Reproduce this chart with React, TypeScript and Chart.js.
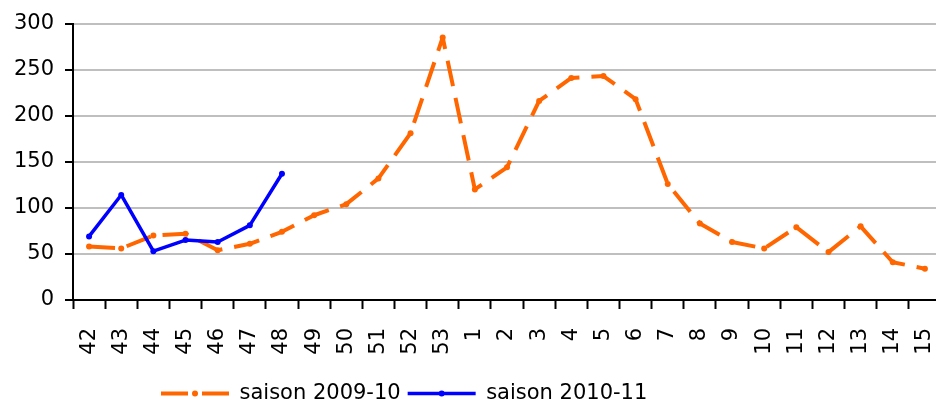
import React, { useEffect, useRef } from "react";
import { Chart, registerables } from "chart.js";

Chart.register(...registerables);

const weeks = [
  "42", "43", "44", "45", "46", "47", "48", "49", "50", "51", "52", "53",
  "1", "2", "3", "4", "5", "6", "7", "8", "9", "10", "11", "12", "13", "14", "15",
];
const season0910 = [
  58, 56, 70, 72, 54, 61, 74, 92, 104, 132, 181, 285,
  120, 144, 216, 241, 243, 218, 126, 83, 63, 56, 79, 52, 80, 41, 34,
];
const season1011 = [69, 114, 53, 65, 63, 81, 137];
const seriesNames = ["saison 2009-10", "saison 2010-11"];
const yTicks = [0, 50, 100, 150, 200, 250, 300];

const ORANGE = "#FF6600";
const BLUE = "#0000FF";
const FONT = { family: "'DejaVu Sans', sans-serif", size: 21 };

export default function App() {
  const ref = useRef<HTMLCanvasElement>(null);

  useEffect(() => {
    const canvas = ref.current;
    if (!canvas) return;

    const legendPlace = {
      id: "legendPlace",
      afterLayout(chart: any) {
        const lg = chart.legend;
        if (lg) {
          const h = lg.height;
          lg.left = 154;
          lg.top = 376;
          lg.bottom = 376 + h;
        }
      },
    };

    const legendDots = {
      id: "legendDots",
      afterDraw(chart: any) {
        const lg = chart.legend;
        if (!lg || !lg.legendHitBoxes) return;
        const ctx = chart.ctx;
        lg.legendHitBoxes.forEach((hb: any, i: number) => {
          const item = lg.legendItems[i];
          const color = item.datasetIndex === 0 ? ORANGE : BLUE;
          ctx.save();
          ctx.fillStyle = color;
          ctx.beginPath();
          ctx.arc(hb.left + 34, hb.top + hb.height / 2, 3, 0, Math.PI * 2);
          ctx.fill();
          ctx.restore();
        });
      },
    };

    const chart = new Chart(canvas, {
      type: "line",
      data: {
        labels: weeks,
        datasets: [
          {
            label: seriesNames[0],
            data: season0910,
            borderColor: ORANGE,
            backgroundColor: ORANGE,
            borderWidth: 4,
            borderDash: [26, 12],
            borderJoinStyle: "round",
            pointRadius: 3,
            pointHoverRadius: 3,
            pointBorderWidth: 0,
            pointBackgroundColor: ORANGE,
            tension: 0,
            order: 2,
          },
          {
            label: seriesNames[1],
            data: season1011,
            borderColor: BLUE,
            backgroundColor: BLUE,
            borderWidth: 3.5,
            borderJoinStyle: "round",
            pointRadius: 3,
            pointHoverRadius: 3,
            pointBorderWidth: 0,
            pointBackgroundColor: BLUE,
            tension: 0,
            order: 1,
          },
        ],
      },
      options: {
        responsive: false,
        animation: false,
        events: [],
        layout: { padding: { top: 23, left: 0, right: 0, bottom: 0 } },
        scales: {
          x: {
            type: "category",
            offset: true,
            grid: {
              offset: true,
              drawOnChartArea: false,
              drawTicks: true,
              tickLength: 9,
              tickColor: "#000",
              tickWidth: 2,
              color: "#000",
            },
            border: { display: true, color: "#000", width: 2 },
            ticks: {
              autoSkip: false,
              minRotation: 90,
              maxRotation: 90,
              padding: 19,
              color: "#000",
              font: FONT,
            },
            afterFit(scale: any) {
              scale.height = 63;
              scale.paddingLeft = 0;
              scale.paddingRight = 0;
            },
          },
          y: {
            min: 0,
            max: 300,
            afterBuildTicks(scale: any) {
              scale.ticks = yTicks.map((v) => ({ value: v }));
            },
            grid: {
              color: (c: any) => (c.tick && c.tick.value === 0 ? "rgba(0,0,0,0)" : "#BFBFBF"),
              lineWidth: 2,
              tickLength: 8,
              tickColor: "#000",
              tickWidth: 2,
            },
            border: { display: true, color: "#000", width: 2 },
            ticks: {
              padding: 11,
              color: "#000",
              font: FONT,
            },
            afterFit(scale: any) {
              scale.width = 73;
            },
          },
        },
        plugins: {
          tooltip: { enabled: false },
          legend: {
            display: true,
            position: "bottom",
            align: "start",
            labels: {
              usePointStyle: true,
              pointStyleWidth: 68,
              padding: 7,
              color: "#000",
              font: FONT,
              generateLabels(ch: any) {
                const colors = [ORANGE, BLUE];
                const widths = [4, 3.5];
                const dashes = [[27, 14], []];
                return ch.data.datasets.map((ds: any, i: number) => ({
                  text: ds.label,
                  datasetIndex: i,
                  fillStyle: colors[i],
                  strokeStyle: colors[i],
                  lineWidth: widths[i],
                  lineDash: dashes[i],
                  pointStyle: "line",
                  hidden: false,
                  fontColor: "#000",
                }));
              },
            },
          },
        },
      },
      plugins: [legendPlace, legendDots],
    } as any);

    return () => chart.destroy();
  }, []);

  return (
    <div style={{ position: "absolute", left: 0, top: 0, width: 936, height: 401, overflow: "hidden", background: "#fff" }}>
      <canvas ref={ref} width={944} height={401} style={{ display: "block" }} />
    </div>
  );
}
